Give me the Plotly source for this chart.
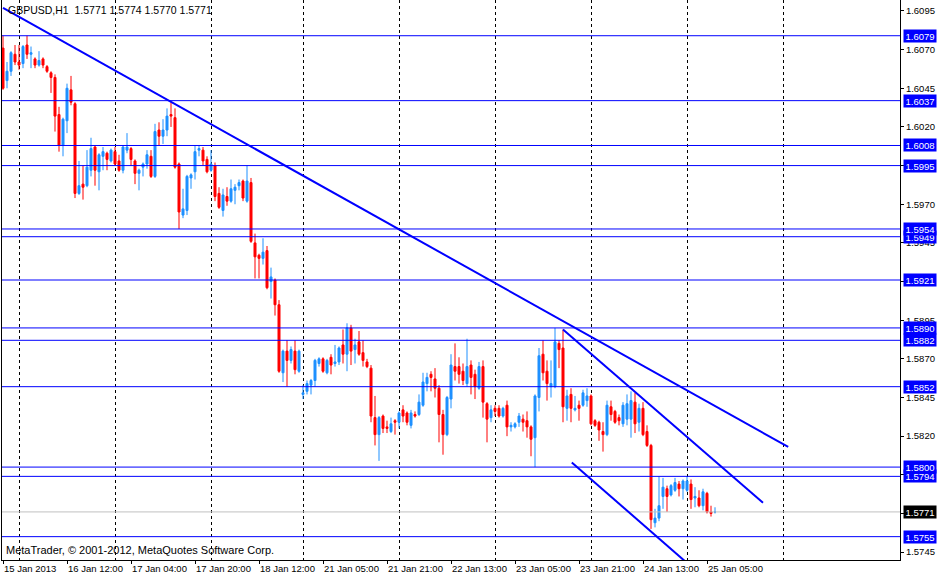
import plotly.graph_objects as go

symbol = "GBPUSD,H1"

# GBPUSD H1 candles, 15 Jan 2013 20:00 onwards (one entry per hourly bar)
opens = [1.6071, 1.6050, 1.6056, 1.6067, 1.6062, 1.6061, 1.6073, 1.6067, 1.6064, 1.6060,
         1.6064, 1.6059, 1.6055, 1.6052, 1.6028, 1.6008, 1.6024, 1.6044, 1.6035, 1.5977,
         1.5983, 1.5982, 1.5992, 1.6007, 1.5991, 1.6001, 1.6003, 1.5998, 1.6004, 1.5998,
         1.5992, 1.6005, 1.6006, 1.5998, 1.5990, 1.5994, 1.5996, 1.6001, 1.5988, 1.6018,
         1.6014, 1.6018, 1.6028, 1.6026, 1.5996, 1.5963, 1.5966, 1.5987, 1.5991, 1.6005,
         1.6005, 1.5999, 1.5992, 1.5995, 1.5977, 1.5966, 1.5975, 1.5972, 1.5979, 1.5982,
         1.5985, 1.5972, 1.5984, 1.5945, 1.5937, 1.5935, 1.5940, 1.5920, 1.5921, 1.5905,
         1.5861, 1.5875, 1.5869, 1.5875, 1.5862, 1.5847, 1.5849, 1.5853, 1.5856, 1.5867,
         1.5870, 1.5861, 1.5871, 1.5867, 1.5868, 1.5879, 1.5873, 1.5890, 1.5876, 1.5881,
         1.5874, 1.5868, 1.5864, 1.5832, 1.5821, 1.5833, 1.5826, 1.5823, 1.5830, 1.5829,
         1.5837, 1.5835, 1.5827, 1.5834, 1.5834, 1.5840, 1.5854, 1.5860, 1.5857, 1.5851,
         1.5834, 1.5821, 1.5844, 1.5865, 1.5865, 1.5862, 1.5854, 1.5866, 1.5860, 1.5851,
         1.5865, 1.5841, 1.5832, 1.5838, 1.5838, 1.5833, 1.5840, 1.5826, 1.5826, 1.5829,
         1.5831, 1.5830, 1.5826, 1.5819, 1.5845, 1.5873, 1.5862, 1.5852, 1.5852, 1.5880,
         1.5877, 1.5838, 1.5847, 1.5837, 1.5840, 1.5840, 1.5843, 1.5846, 1.5830, 1.5829,
         1.5823, 1.5821, 1.5839, 1.5836, 1.5832, 1.5828, 1.5831, 1.5831, 1.5842, 1.5829,
         1.5838, 1.5823, 1.5814, 1.5764, 1.5767, 1.5781, 1.5786, 1.5782, 1.5785, 1.5789,
         1.5786, 1.5785, 1.5789, 1.5780, 1.5780, 1.5775, 1.5783, 1.5771, 1.5771]
highs = [1.6079, 1.6062, 1.6069, 1.6073, 1.6073, 1.6073, 1.6079, 1.6072, 1.6065, 1.6069,
         1.6065, 1.6060, 1.6056, 1.6054, 1.6033, 1.6026, 1.6048, 1.6053, 1.6036, 1.5998,
         1.5995, 1.6005, 1.6013, 1.6008, 1.6003, 1.6007, 1.6004, 1.6006, 1.6007, 1.6002,
         1.6008, 1.6016, 1.6007, 1.5999, 1.5993, 1.5997, 1.6005, 1.6005, 1.6022, 1.6023,
         1.6025, 1.6032, 1.6036, 1.6032, 1.5997, 1.5980, 1.5989, 1.5990, 1.6008, 1.6008,
         1.6007, 1.6001, 1.6005, 1.5997, 1.5981, 1.5980, 1.5981, 1.5986, 1.5983, 1.5986,
         1.5986, 1.5995, 1.5987, 1.5951, 1.5938, 1.5948, 1.5943, 1.5929, 1.5922, 1.5908,
         1.5876, 1.5882, 1.5878, 1.5882, 1.5876, 1.5853, 1.5856, 1.5857, 1.5870, 1.5871,
         1.5871, 1.5870, 1.5873, 1.5879, 1.5878, 1.5889, 1.5893, 1.5892, 1.5883, 1.5888,
         1.5882, 1.5870, 1.5866, 1.5846, 1.5833, 1.5834, 1.5830, 1.5832, 1.5831, 1.5836,
         1.5840, 1.5836, 1.5837, 1.5836, 1.5847, 1.5861, 1.5861, 1.5862, 1.5864, 1.5853,
         1.5837, 1.5846, 1.5873, 1.5880, 1.5871, 1.5867, 1.5883, 1.5869, 1.5863, 1.5868,
         1.5869, 1.5842, 1.5840, 1.5840, 1.5840, 1.5839, 1.5843, 1.5829, 1.5829, 1.5835,
         1.5834, 1.5836, 1.5827, 1.5847, 1.5877, 1.5882, 1.5869, 1.5869, 1.5890, 1.5882,
         1.5889, 1.5850, 1.5851, 1.5846, 1.5843, 1.5850, 1.5851, 1.5847, 1.5831, 1.5830,
         1.5829, 1.5843, 1.5843, 1.5837, 1.5834, 1.5842, 1.5847, 1.5849, 1.5848, 1.5841,
         1.5842, 1.5827, 1.5815, 1.5773, 1.5794, 1.5793, 1.5788, 1.5789, 1.5793, 1.5791,
         1.5792, 1.5794, 1.5792, 1.5787, 1.5785, 1.5786, 1.5784, 1.5775, 1.5774]
lows = [1.6044, 1.6045, 1.6053, 1.6060, 1.6057, 1.6058, 1.6064, 1.6058, 1.6058, 1.6059,
        1.6058, 1.6055, 1.6042, 1.6017, 1.6004, 1.6001, 1.6016, 1.6034, 1.5974, 1.5976,
        1.5973, 1.5981, 1.5988, 1.5982, 1.5979, 1.5992, 1.5992, 1.5997, 1.5995, 1.5991,
        1.5990, 1.6003, 1.5995, 1.5983, 1.5979, 1.5988, 1.5993, 1.5987, 1.5987, 1.6008,
        1.6009, 1.6014, 1.6020, 1.5993, 1.5954, 1.5961, 1.5963, 1.5980, 1.5986, 1.6001,
        1.5995, 1.5990, 1.5991, 1.5972, 1.5967, 1.5962, 1.5969, 1.5971, 1.5970, 1.5979,
        1.5972, 1.5971, 1.5945, 1.5922, 1.5922, 1.5931, 1.5915, 1.5909, 1.5898, 1.5861,
        1.5855, 1.5852, 1.5867, 1.5860, 1.5861, 1.5844, 1.5847, 1.5847, 1.5852, 1.5865,
        1.5861, 1.5860, 1.5860, 1.5865, 1.5866, 1.5867, 1.5862, 1.5866, 1.5867, 1.5872,
        1.5865, 1.5864, 1.5829, 1.5814, 1.5804, 1.5822, 1.5822, 1.5822, 1.5821, 1.5825,
        1.5829, 1.5827, 1.5825, 1.5832, 1.5833, 1.5839, 1.5849, 1.5849, 1.5845, 1.5816,
        1.5808, 1.5820, 1.5838, 1.5856, 1.5854, 1.5853, 1.5852, 1.5847, 1.5844, 1.5850,
        1.5832, 1.5816, 1.5829, 1.5833, 1.5832, 1.5832, 1.5820, 1.5823, 1.5825, 1.5826,
        1.5823, 1.5819, 1.5807, 1.5800, 1.5836, 1.5856, 1.5843, 1.5845, 1.5851, 1.5864,
        1.5829, 1.5830, 1.5829, 1.5836, 1.5830, 1.5839, 1.5839, 1.5827, 1.5826, 1.5817,
        1.5810, 1.5820, 1.5830, 1.5828, 1.5827, 1.5826, 1.5827, 1.5819, 1.5822, 1.5823,
        1.5820, 1.5813, 1.5760, 1.5761, 1.5765, 1.5773, 1.5771, 1.5781, 1.5784, 1.5781,
        1.5779, 1.5784, 1.5773, 1.5774, 1.5774, 1.5772, 1.5770, 1.5768, 1.5770]
closes = [1.6045, 1.6056, 1.6068, 1.6062, 1.6060, 1.6072, 1.6067, 1.6068, 1.6060, 1.6063,
          1.6060, 1.6056, 1.6052, 1.6027, 1.6008, 1.6025, 1.6045, 1.6036, 1.5977, 1.5982,
          1.5981, 1.5994, 1.6006, 1.5992, 1.6002, 1.6004, 1.5999, 1.6005, 1.5996, 1.5992,
          1.6007, 1.6007, 1.5999, 1.5990, 1.5992, 1.5996, 1.6002, 1.5988, 1.6017, 1.6014,
          1.6018, 1.6027, 1.6027, 1.5994, 1.5965, 1.5967, 1.5988, 1.5989, 1.6004, 1.6006,
          1.5998, 1.5991, 1.5996, 1.5975, 1.5968, 1.5976, 1.5972, 1.5980, 1.5981, 1.5984,
          1.5974, 1.5985, 1.5946, 1.5936, 1.5935, 1.5939, 1.5916, 1.5923, 1.5905, 1.5862,
          1.5875, 1.5869, 1.5876, 1.5863, 1.5875, 1.5848, 1.5854, 1.5856, 1.5869, 1.5870,
          1.5862, 1.5869, 1.5866, 1.5868, 1.5877, 1.5873, 1.5890, 1.5875, 1.5879, 1.5873,
          1.5869, 1.5865, 1.5833, 1.5821, 1.5832, 1.5825, 1.5825, 1.5828, 1.5829, 1.5835,
          1.5833, 1.5829, 1.5835, 1.5833, 1.5842, 1.5855, 1.5858, 1.5858, 1.5851, 1.5834,
          1.5821, 1.5845, 1.5866, 1.5862, 1.5860, 1.5856, 1.5865, 1.5858, 1.5852, 1.5865,
          1.5842, 1.5831, 1.5837, 1.5836, 1.5833, 1.5838, 1.5826, 1.5827, 1.5828, 1.5833,
          1.5829, 1.5826, 1.5818, 1.5846, 1.5872, 1.5861, 1.5854, 1.5854, 1.5881, 1.5876,
          1.5839, 1.5846, 1.5838, 1.5838, 1.5838, 1.5848, 1.5846, 1.5828, 1.5827, 1.5824,
          1.5821, 1.5840, 1.5834, 1.5829, 1.5830, 1.5840, 1.5841, 1.5843, 1.5828, 1.5838,
          1.5821, 1.5814, 1.5766, 1.5767, 1.5775, 1.5787, 1.5781, 1.5788, 1.5790, 1.5786,
          1.5791, 1.5791, 1.5779, 1.5781, 1.5775, 1.5784, 1.5771, 1.5770, 1.5771]
bars = list(range(len(opens)))

time_ticks = [0, 16, 32, 48, 64, 80, 96, 112, 128, 144, 160, 176]
time_labels = ["15 Jan 2013", "16 Jan 12:00", "17 Jan 04:00", "17 Jan 20:00",
               "18 Jan 12:00", "21 Jan 05:00", "21 Jan 21:00", "22 Jan 13:00",
               "23 Jan 05:00", "23 Jan 21:00", "24 Jan 13:00", "25 Jan 05:00"]
day_starts = [4, 28, 52, 75, 99, 123, 147, 171, 195]

price_ticks = [1.6095, 1.6070, 1.6045, 1.6020, 1.5995, 1.5970, 1.5945, 1.5920,
               1.5895, 1.5870, 1.5845, 1.5820, 1.5795, 1.5770, 1.5745]
levels = [1.6079, 1.6037, 1.6008, 1.5995, 1.5954, 1.5949, 1.5921,
          1.5890, 1.5882, 1.5852, 1.5800, 1.5794, 1.5755]
bid = 1.5771

# trend lines as (bar, price) -> (bar, price)
trend_lines = [((0, 1.6097), (196.3, 1.5813)),
               ((140, 1.5889), (190, 1.5777)),
               ((142.2, 1.5803), (171, 1.5738))]

BLUE = "#0000FF"
FONT = "Liberation Sans"

fig = go.Figure()
fig.add_trace(go.Candlestick(
    x=bars, open=opens, high=highs, low=lows, close=closes,
    increasing=dict(line=dict(color="#1E90FF", width=1), fillcolor="#1E90FF"),
    decreasing=dict(line=dict(color="#FF0000", width=1), fillcolor="#FF0000"),
    whiskerwidth=0,
    hoverinfo="x+y",
))

shapes = []
for lv in levels:
    shapes.append(dict(type="line", xref="paper", x0=0, x1=1, yref="y", y0=lv, y1=lv,
                       line=dict(color=BLUE, width=1)))
shapes.append(dict(type="line", xref="paper", x0=0, x1=1, yref="y", y0=bid, y1=bid,
                   line=dict(color="#C0C0C0", width=1)))
for (x0, y0), (x1, y1) in trend_lines:
    shapes.append(dict(type="line", xref="x", yref="y", x0=x0, y0=y0, x1=x1, y1=y1,
                       line=dict(color=BLUE, width=2)))

# price tags on the scale: lower ones first so the higher tag sits on top
annotations = []
tags = [(lv, BLUE) for lv in levels] + [(bid, "black")]
for lv, col in sorted(tags):
    annotations.append(dict(xref="paper", x=1, xanchor="left", xshift=3, yref="y", y=lv,
                            text=f"{lv:.4f}", showarrow=False, bgcolor=col, borderpad=0,
                            width=32, height=12,
                            font=dict(family=FONT, size=9.5, color="white")))
annotations.append(dict(xref="paper", x=0, xanchor="left", xshift=4, yref="paper", y=1,
                        yanchor="top", yshift=-2,
                        text=f"{symbol}  {opens[-1]:.4f} {highs[-1]:.4f} {lows[-1]:.4f} {closes[-1]:.4f}",
                        showarrow=False, font=dict(family=FONT, size=10.5, color="black")))
annotations.append(dict(xref="paper", x=0, xanchor="left", xshift=2, yref="paper", y=0,
                        yanchor="bottom", yshift=2,
                        text="MetaTrader, © 2001-2012, MetaQuotes Software Corp.",
                        showarrow=False, font=dict(family=FONT, size=11, color="black")))

fig.update_layout(
    width=938, height=577,
    margin=dict(l=2, r=38, t=0, b=17),
    paper_bgcolor="white", plot_bgcolor="white",
    showlegend=False, boxgap=0.5, boxgroupgap=0,
    font=dict(family=FONT, size=9.5, color="black"),
    shapes=shapes, annotations=annotations,
    xaxis=dict(range=[-0.25, 224.25], tickvals=time_ticks, ticktext=time_labels,
               ticks="outside", ticklen=3, tickcolor="black",
               ticklabelposition="outside right",
               showline=True, linecolor="black", linewidth=1,
               showgrid=False, zeroline=False, rangeslider=dict(visible=False),
               minor=dict(tickvals=day_starts, showgrid=True, griddash="dot",
                          gridcolor="black", gridwidth=1, ticks="")),
    yaxis=dict(side="right", range=[1.57399, 1.61021], tickvals=price_ticks,
               tickformat=".4f", ticks="outside", ticklen=3, tickcolor="black",
               showline=True, mirror=True, linecolor="black", linewidth=1,
               showgrid=False, zeroline=False),
)

# page has a default body margin; drop it so the chart fills the window
fig.write_html("out.html", config={"displayModeBar": False},
               post_script="document.body.style.margin='0';")
